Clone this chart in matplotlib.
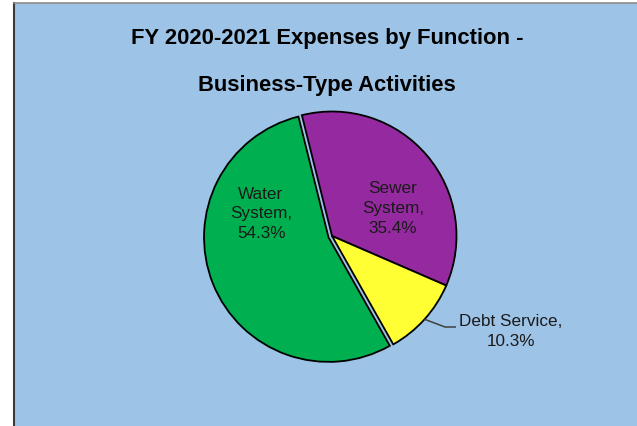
import numpy as np  # Para calcular a posição da linha guia
import matplotlib
matplotlib.use("Agg")  # Sem display
import matplotlib.pyplot as plt  # Para gerar o gráfico

# Dados do gráfico (na ordem em que as fatias são desenhadas)
categorias = ["Sewer\nSystem,", "Debt Service,", "Water\nSystem,"]
percentuais = [35.4, 10.3, 54.3]
cores = ["#9529A0", "#FFFF33", "#00B050"]
titulo = "FY 2020-2021 Expenses by Function -\n\nBusiness-Type Activities"

# Fonte parecida com Arial
plt.rcParams["font.family"] = ["Liberation Sans", "DejaVu Sans"]

FUNDO = "#9DC3E6"
RAIO_PX = 124.5  # Raio da pizza em pixels
CENTRO_PX = (332, 237)  # Centro da pizza em pixels (x, y a partir do topo)
LARGURA, ALTURA = 637, 427


def gerar_grafico():
    fig = plt.figure(figsize=(LARGURA / 100, ALTURA / 100), dpi=100, facecolor="white")

    # Área de fundo azul com borda à esquerda e no topo
    fundo = fig.add_axes([14 / LARGURA, 0, 1 - 14 / LARGURA, (ALTURA - 4) / ALTURA])
    fundo.set_facecolor(FUNDO)
    fundo.set_xticks([])
    fundo.set_yticks([])
    fundo.spines["right"].set_visible(False)
    fundo.spines["bottom"].set_visible(False)
    fundo.spines["left"].set_color("#3A3A3A")
    fundo.spines["left"].set_linewidth(1.5)
    fundo.spines["top"].set_color("#8A8A8A")
    fundo.spines["top"].set_linewidth(1.2)

    # Título em duas linhas
    fig.text(327 / LARGURA, 1 - 62 / ALTURA, titulo, ha="center", va="center",
             fontsize=15.8, fontweight="bold", color="black", linespacing=1.18)

    # Eixo quadrado para a pizza (1 unidade = RAIO_PX pixels)
    lado = 300
    lim = lado / 2 / RAIO_PX
    ax = fig.add_axes([(CENTRO_PX[0] - lado / 2) / LARGURA,
                       (ALTURA - CENTRO_PX[1] - lado / 2) / ALTURA,
                       lado / LARGURA, lado / ALTURA])

    inicio = 104  # Ângulo inicial (graus, sentido anti-horário a partir do eixo x)
    fatias, _ = ax.pie(percentuais, colors=cores, startangle=inicio, counterclock=False,
                       explode=[0, 0, 0.03], radius=1,
                       wedgeprops={"edgecolor": "black", "linewidth": 1.3})

    # O pie redefine os limites, então ajusto depois
    ax.set_xlim(-lim, lim)
    ax.set_ylim(-lim, lim)
    ax.set_aspect("equal")
    ax.axis("off")

    # Rótulos dentro das fatias
    pos_rotulos = [(0.49, 0.229), (1.434, -0.759), (-0.57, 0.185)]
    for nome, valor, (x, y) in zip(categorias, percentuais, pos_rotulos):
        ax.text(x, y, f"{nome}\n{valor:.1f}%", ha="center", va="center",
                fontsize=12.3, color="#1A1A1A", linespacing=1.4)

    # Linha guia do rótulo "Debt Service"
    w = fatias[1]
    meio = np.deg2rad((w.theta1 + w.theta2) / 2)
    x0, y0 = np.cos(meio), np.sin(meio)
    ax.plot([x0, 0.908, 0.996], [y0, -0.731, -0.731], color="#404040", lw=1.1,
            solid_capstyle="butt")

    fig.savefig("out.png", dpi=100, facecolor=fig.get_facecolor())
    plt.close(fig)


if __name__ == "__main__":
    gerar_grafico()
